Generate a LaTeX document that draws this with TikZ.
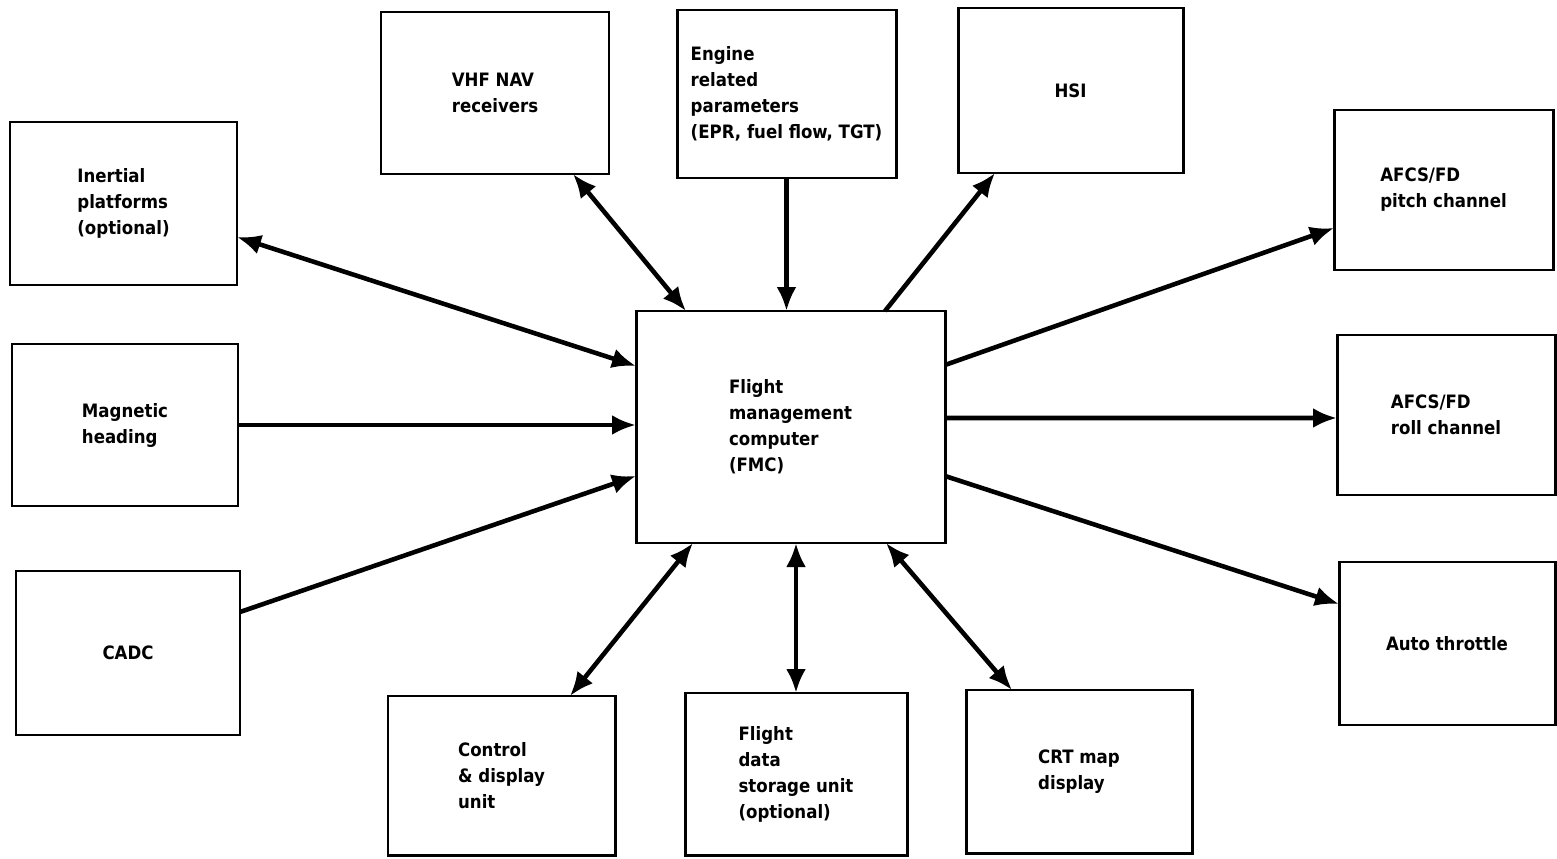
\documentclass[tikz,border=0pt]{standalone}
\usepackage{fontspec}
\setmainfont{DejaVu Sans Condensed}
\usepackage{tikz}
\usetikzlibrary{arrows.meta}

\begin{document}
\begin{tikzpicture}[
    unit/.style={draw, line width=1.7pt, align=left, font=\bfseries\fontsize{10.5}{14.8}\selectfont, inner sep=0pt, outer sep=0pt},
    link/.style={-{Latex[length=4.8mm, width=4mm]}, line width=2.6pt},
    bilink/.style={{Latex[length=4.8mm, width=4mm]}-{Latex[length=4.8mm, width=4mm]}, line width=2.6pt}
  ]
    \useasboundingbox (0,0) rectangle (31.14,17.16);

    % inputs on the left
    \node[unit, minimum width=4.54cm, minimum height=3.26cm] (inertial) at (2.47,13.09) {Inertial\\platforms\\(optional)};
    \node[unit, minimum width=4.52cm, minimum height=3.24cm] (magnetic) at (2.50,8.66) {Magnetic\\heading};
    \node[unit, minimum width=4.48cm, minimum height=3.28cm] (cadc) at (2.56,4.10) {CADC};

    % top row
    \node[unit, minimum width=4.56cm, minimum height=3.24cm] (vhf) at (9.90,15.30) {VHF NAV\\receivers};
    \node[unit, minimum width=4.38cm, minimum height=3.36cm] (engine) at (15.73,15.28) {Engine\\related\\parameters\\(EPR, fuel flow, TGT)};
    \node[unit, minimum width=4.50cm, minimum height=3.30cm] (hsi) at (21.41,15.35) {HSI};

    % outputs on the right
    \node[unit, minimum width=4.38cm, minimum height=3.20cm] (pitch) at (28.87,13.36) {AFCS/FD\\pitch channel};
    \node[unit, minimum width=4.36cm, minimum height=3.20cm] (roll) at (28.92,8.86) {AFCS/FD\\roll channel};
    \node[unit, minimum width=4.32cm, minimum height=3.26cm] (throttle) at (28.94,4.29) {Auto throttle};

    % computer
    \node[unit, minimum width=6.18cm, minimum height=4.64cm] (fmc) at (15.81,8.62) {Flight\\management\\computer\\(FMC)};

    % bottom row
    \node[unit, minimum width=4.54cm, minimum height=3.18cm] (cdu) at (10.03,1.65) {Control\\\& display\\unit};
    \node[unit, minimum width=4.44cm, minimum height=3.24cm] (fdsu) at (15.92,1.68) {Flight\\data\\storage unit\\(optional)};
    \node[unit, minimum width=4.52cm, minimum height=3.26cm] (crt) at (21.58,1.73) {CRT map\\display};

    \draw[bilink] ([yshift=-0.67cm]inertial.east) -- ([yshift=1.22cm]fmc.west);
    \draw[link] (magnetic.east) -- (magnetic.east -| fmc.west);
    \draw[link] ([yshift=0.82cm]cadc.east) -- ([yshift=-0.98cm]fmc.west);
    \draw[bilink] ([xshift=1.56cm]vhf.south) -- ([xshift=-2.09cm]fmc.north);
    \draw[link] (engine.south) -- (engine.south |- fmc.north);
    \draw[link] ([xshift=1.89cm]fmc.north) -- ([xshift=-1.51cm]hsi.south);
    \draw[link] ([yshift=1.24cm]fmc.east) -- ([yshift=-0.76cm]pitch.west);
    \draw[link] ([yshift=0.18cm]fmc.east) -- ([yshift=-0.06cm]roll.west);
    \draw[link] ([yshift=-0.98cm]fmc.east) -- ([yshift=0.79cm]throttle.west);
    \draw[bilink] ([xshift=-1.95cm]fmc.south) -- ([xshift=1.37cm]cdu.north);
    \draw[bilink] (fdsu.north |- fmc.south) -- (fdsu.north);
    \draw[bilink] ([xshift=1.91cm]fmc.south) -- ([xshift=-1.34cm]crt.north);
\end{tikzpicture}
\end{document}
